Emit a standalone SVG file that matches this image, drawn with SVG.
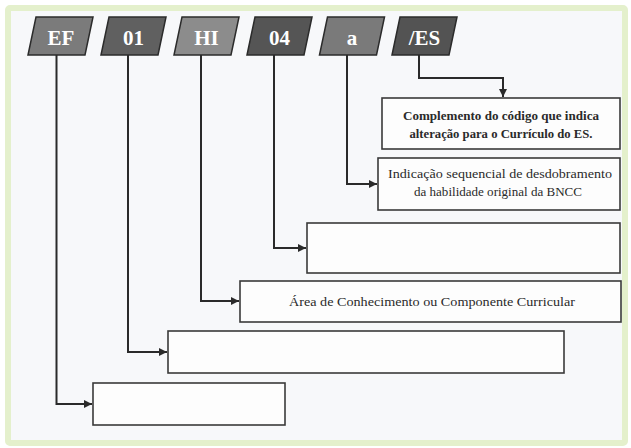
<svg xmlns="http://www.w3.org/2000/svg" width="631" height="448" viewBox="0 0 631 448">
  <style>
    .tag { stroke: #2b2b2b; stroke-width: 1.5; }
    .tagtxt { font-family: "Liberation Serif", "DejaVu Serif", serif; font-weight: bold; font-size: 21px; fill: #ffffff; text-anchor: middle; }
    .box { fill: #fdfdfd; stroke: #3a3a3a; stroke-width: 1.6; }
    .lbl { font-family: "Liberation Serif", "DejaVu Serif", serif; font-size: 13px; fill: #2a2a2a; text-anchor: middle; }
    .lblb { font-weight: bold; }
    .conn { fill: none; stroke: #2a2a2a; stroke-width: 2; }
  </style>
  <defs>
    <marker id="arr" viewBox="0 0 10 10" refX="10" refY="5" markerWidth="9" markerHeight="8" markerUnits="userSpaceOnUse" orient="auto">
      <path d="M0,0 L10,5 L0,10 Z" fill="#2a2a2a"/>
    </marker>
  </defs>

  <rect x="0" y="0" width="631" height="448" fill="#ffffff"/>
  <rect id="frame" x="8" y="8" width="617" height="435" rx="2" fill="#f7f8fa" stroke="#e4f0cc" stroke-width="6"/>

  <g id="tag-EF">
    <polygon class="tag" points="36,17 93,17 85,55 28,55" fill="#7b7b7b"/>
    <text class="tagtxt" x="61" y="45">EF</text>
  </g>
  <g id="tag-01">
    <polygon class="tag" points="109,17 166,17 158,55 101,55" fill="#606060"/>
    <text class="tagtxt" x="133.5" y="45">01</text>
  </g>
  <g id="tag-HI">
    <polygon class="tag" points="182,17 239,17 231,55 174,55" fill="#8c8c8c"/>
    <text class="tagtxt" x="206.5" y="45">HI</text>
  </g>
  <g id="tag-04">
    <polygon class="tag" points="255,17 312,17 304,55 247,55" fill="#555555"/>
    <text class="tagtxt" x="279.5" y="45">04</text>
  </g>
  <g id="tag-a">
    <polygon class="tag" points="327.5,17 384.5,17 376.5,55 319.5,55" fill="#7a7a7a"/>
    <text class="tagtxt" x="352" y="45">a</text>
  </g>
  <g id="tag-ES">
    <polygon class="tag" points="400,17 457,17 449,55 392,55" fill="#535353"/>
    <text class="tagtxt" x="424.5" y="45">/ES</text>
  </g>

  <g id="box-complemento">
    <rect class="box" x="382" y="98" width="238" height="51"/>
    <text class="lbl lblb" x="501" y="120" textLength="196" lengthAdjust="spacingAndGlyphs">Complemento do código que indica</text>
    <text class="lbl lblb" x="501" y="138" textLength="183" lengthAdjust="spacingAndGlyphs">alteração para o Currículo do ES.</text>
  </g>
  <g id="box-indicacao">
    <rect class="box" x="378" y="158" width="242" height="52"/>
    <text class="lbl" x="500" y="178" textLength="224" lengthAdjust="spacingAndGlyphs">Indicação sequencial de desdobramento</text>
    <text class="lbl" x="498" y="196" textLength="168" lengthAdjust="spacingAndGlyphs">da habilidade original da BNCC</text>
  </g>
  <g id="box-04">
    <rect class="box" x="307" y="223" width="313" height="50"/>
  </g>
  <g id="box-area">
    <rect class="box" x="240" y="281" width="381" height="41"/>
    <text class="lbl" x="432" y="306" font-size="12.5" textLength="286" lengthAdjust="spacingAndGlyphs">Área de Conhecimento ou Componente Curricular</text>
  </g>
  <g id="box-01">
    <rect class="box" x="168" y="331" width="396" height="42"/>
  </g>
  <g id="box-EF">
    <rect class="box" x="93" y="383" width="192" height="42"/>
  </g>

  <g id="connectors">
    <path class="conn" d="M419,55 V78 H503 V97" marker-end="url(#arr)"/>
    <path class="conn" d="M347,55 V184 H377" marker-end="url(#arr)"/>
    <path class="conn" d="M274,55 V248 H306" marker-end="url(#arr)"/>
    <path class="conn" d="M201,55 V301 H239" marker-end="url(#arr)" stroke="#555" stroke-width="1.6"/>
    <path class="conn" d="M128,55 V352 H167" marker-end="url(#arr)"/>
    <path class="conn" d="M56.5,55 V404 H92" marker-end="url(#arr)"/>
  </g>
</svg>
